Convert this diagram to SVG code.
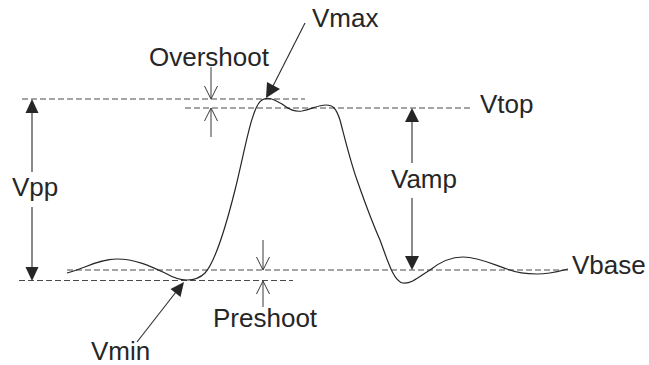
<svg xmlns="http://www.w3.org/2000/svg" width="649" height="365" viewBox="0 0 649 365">
<style>
  .lbl { font-family: "Liberation Sans", Arial, sans-serif; font-size: 26px; fill: #262626; }
  .dash { stroke: #4a4a4a; stroke-width: 1; stroke-dasharray: 6 3; fill: none; }
  .ln { stroke: #2a2a2a; stroke-width: 1.1; fill: none; }
  .thin { stroke: #3a3a3a; stroke-width: 1; fill: none; }
  .wave { stroke: #262626; stroke-width: 1.2; fill: none; }
  .head { fill: #262626; }
</style>
<rect width="649" height="365" fill="#ffffff"/>

<g id="levels">
  <line class="dash" x1="22" y1="99" x2="305" y2="99"/>
  <line class="dash" x1="185" y1="108" x2="472" y2="108"/>
  <line class="dash" x1="67" y1="270" x2="568" y2="270"/>
  <line class="dash" x1="19" y1="280.5" x2="293" y2="280.5"/>
</g>

<g id="waveform">
  <path class="wave" d="M67,273 C85,268 100,259 117,259 C135,259 150,266 165,273 C172,277 178,280 187,280 C195,280 200,278 205,273 C215,262 225,230 235,190 C245,150 252,105 262,100 C268,96 275,100 282,104 C290,110 295,112 302,111 C312,109 318,105 326,105 C333,105 336,108 340,120 C344,135 350,160 357,180 C364,200 372,222 380,240 C388,262 394,282 403,283 C412,284 420,276 430,270 C440,262 450,257 463,257 C478,257 492,264 507,269 C517,273 527,274 537,274 C550,274 560,271 568,269"/>
</g>

<g id="connectors">
  <g id="vpp-arrow">
    <line class="ln" x1="32" y1="112" x2="32" y2="172"/>
    <line class="ln" x1="32" y1="207" x2="32" y2="268"/>
    <path class="head" d="M32,99 L38.5,113 L25.5,113 Z"/>
    <path class="head" d="M32,281 L38.5,267 L25.5,267 Z"/>
  </g>
  <g id="vamp-arrow">
    <line class="ln" x1="412" y1="121" x2="412" y2="163"/>
    <line class="ln" x1="412" y1="198" x2="412" y2="258"/>
    <path class="head" d="M412,108 L419,122 L405,122 Z"/>
    <path class="head" d="M412,270 L419,256 L405,256 Z"/>
  </g>
  <g id="overshoot-arrows">
    <line class="thin" x1="211" y1="67" x2="211" y2="99"/>
    <path class="thin" d="M204.5,86 L211,99 L217.5,86"/>
    <line class="thin" x1="211" y1="108" x2="211" y2="137"/>
    <path class="thin" d="M204.5,121 L211,108 L217.5,121"/>
  </g>
  <g id="preshoot-arrows">
    <line class="thin" x1="263" y1="240" x2="263" y2="270"/>
    <path class="thin" d="M256.5,257 L263,270 L269.5,257"/>
    <line class="thin" x1="263" y1="281" x2="263" y2="307"/>
    <path class="thin" d="M256.5,294 L263,281 L269.5,294"/>
  </g>
  <g id="vmax-pointer">
    <line class="ln" x1="305" y1="23" x2="273" y2="86"/>
    <path class="head" d="M266,98 L267,82 L280,89 Z"/>
  </g>
  <g id="vmin-pointer">
    <line class="ln" x1="137" y1="342" x2="176" y2="292"/>
    <path class="head" d="M184,282 L180.5,297 L170.5,289 Z"/>
  </g>
</g>

<g id="labels">
  <text id="lbl-vmax" class="lbl" x="312" y="27">Vmax</text>
  <text id="lbl-overshoot" class="lbl" x="149" y="66">Overshoot</text>
  <text id="lbl-vtop" class="lbl" x="480" y="113">Vtop</text>
  <text id="lbl-vpp" class="lbl" x="12" y="196">Vpp</text>
  <text id="lbl-vamp" class="lbl" x="391" y="188">Vamp</text>
  <text id="lbl-vbase" class="lbl" x="572" y="274">Vbase</text>
  <text id="lbl-preshoot" class="lbl" x="213" y="327">Preshoot</text>
  <text id="lbl-vmin" class="lbl" x="91" y="360">Vmin</text>
</g>
</svg>
